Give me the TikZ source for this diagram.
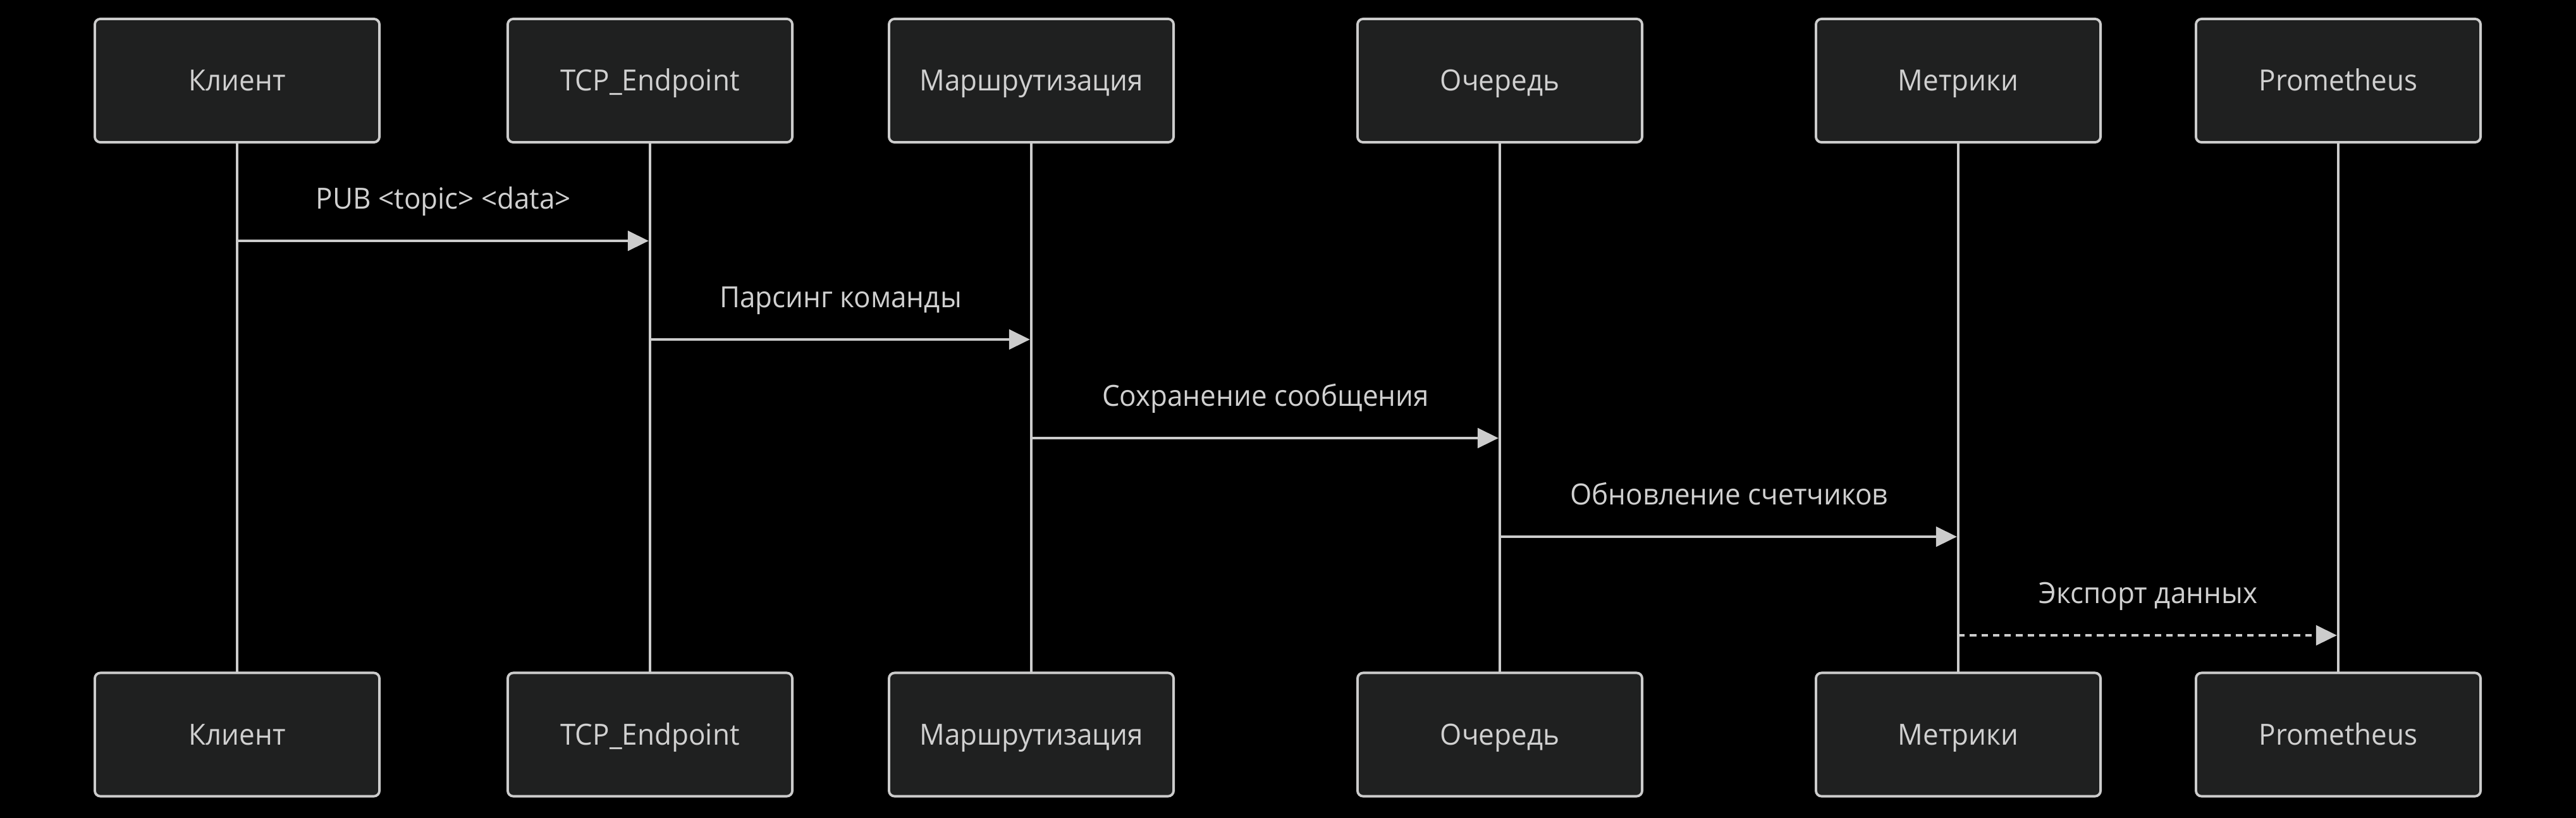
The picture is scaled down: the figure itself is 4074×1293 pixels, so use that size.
\documentclass[tikz,border=0pt]{standalone}
\usepackage{fontspec}
\setmainfont{Open Sans}[FakeStretch=0.955]
\usetikzlibrary{arrows.meta}
\definecolor{bg}{HTML}{000000}
\definecolor{boxfill}{HTML}{1F2020}
\definecolor{boxline}{HTML}{CCCCCC}
\definecolor{txt}{HTML}{D0D0D0}
\tikzset{
  actor/.style={draw=boxline, fill=boxfill, line width=1.1pt, rounded corners=2.5pt,
    minimum width=128pt, minimum height=55.5pt, inner sep=0pt, text=txt,
    text height=9.3pt, text depth=0pt,
    font=\fontsize{13.1}{16}\selectfont},
  lifeline/.style={draw=boxline, line width=1.4pt},
  msg/.style={draw=boxline, line width=1.4pt, -{Triangle[length=9.4pt,width=8.8pt]}},
  dmsg/.style={msg, dash pattern=on 2.9pt off 2.3pt},
  mlabel/.style={text=txt, font=\fontsize{13.1}{16}\selectfont, anchor=base, inner sep=0pt}
}
\begin{document}
\begin{tikzpicture}[x=0.01cm, y=-0.01cm]
\useasboundingbox (0,0) rectangle (4074,1293);
\fill[bg] (-20,-20) rectangle (4094,1313);
% lifelines first (behind boxes)
\foreach \n/\x in {a/375, b/1028, c/1631, d/2372, e/3097, f/3698}{
  \coordinate (\n top) at (\x,225);
  \coordinate (\n bot) at (\x,1064);
  \draw[lifeline] (\n top) -- (\n bot);
}
% top actors
\node[actor] (a1) at (375,127.5) {Клиент};
\node[actor] (b1) at (1028,127.5) {TCP\_Endpoint};
\node[actor] (c1) at (1631,127.5) {Маршрутизация};
\node[actor] (d1) at (2372,127.5) {Очередь};
\node[actor] (e1) at (3097,127.5) {Метрики};
\node[actor] (f1) at (3698,127.5) {Prometheus};
% bottom actors
\node[actor] (a2) at (375,1162) {Клиент};
\node[actor] (b2) at (1028,1162) {TCP\_Endpoint};
\node[actor] (c2) at (1631,1162) {Маршрутизация};
\node[actor] (d2) at (2372,1162) {Очередь};
\node[actor] (e2) at (3097,1162) {Метрики};
\node[actor] (f2) at (3698,1162) {Prometheus};
% message anchor points
\coordinate (m1s) at (375,381);  \coordinate (m1e) at (1026,381);
\coordinate (m2s) at (1028,537); \coordinate (m2e) at (1629,537);
\coordinate (m3s) at (1631,693); \coordinate (m3e) at (2370,693);
\coordinate (m4s) at (2372,849); \coordinate (m4e) at (3095,849);
\coordinate (m5s) at (3097,1005); \coordinate (m5e) at (3696,1005);
\draw[msg] (m1s) -- (m1e);
\draw[msg] (m2s) -- (m2e);
\draw[msg] (m3s) -- (m3e);
\draw[msg] (m4s) -- (m4e);
\draw[dmsg] (m5s) -- (m5e);
\node[mlabel] (l1) at (701.5,330) {PUB <topic> <data>};
\node[mlabel] (l2) at (1329.5,486) {Парсинг команды};
\node[mlabel] (l3) at (2001.5,642) {Сохранение сообщения};
\node[mlabel] (l4) at (2734.5,798) {Обновление счетчиков};
\node[mlabel] (l5) at (3397.5,954) {Экспорт данных};
\end{tikzpicture}
\end{document}
